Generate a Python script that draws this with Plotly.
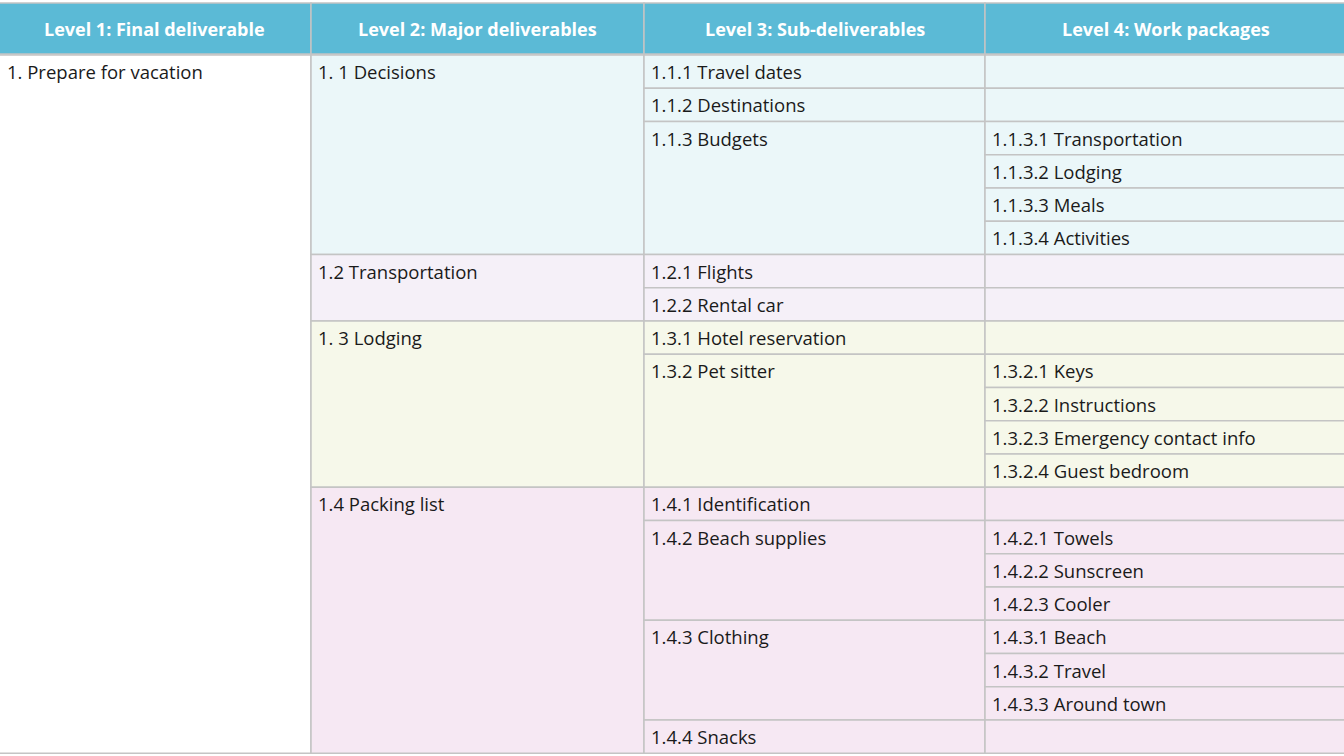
import plotly.graph_objects as go

# ---- data ----
headers = ["Level 1: Final deliverable", "Level 2: Major deliverables",
           "Level 3: Sub-deliverables", "Level 4: Work packages"]

level1 = [("1. Prepare for vacation", 21)]
level2 = [("1. 1 Decisions", 6), ("1.2 Transportation", 2),
          ("1. 3 Lodging", 5), ("1.4 Packing list", 8)]
level3 = [("1.1.1 Travel dates", 1), ("1.1.2 Destinations", 1), ("1.1.3 Budgets", 4),
          ("1.2.1 Flights", 1), ("1.2.2 Rental car", 1),
          ("1.3.1 Hotel reservation", 1), ("1.3.2 Pet sitter", 4),
          ("1.4.1 Identification", 1), ("1.4.2 Beach supplies", 3),
          ("1.4.3 Clothing", 3), ("1.4.4 Snacks", 1)]
level4 = ["", "", "1.1.3.1 Transportation", "1.1.3.2 Lodging", "1.1.3.3 Meals",
          "1.1.3.4 Activities", "", "", "", "1.3.2.1 Keys", "1.3.2.2 Instructions",
          "1.3.2.3 Emergency contact info", "1.3.2.4 Guest bedroom", "",
          "1.4.2.1 Towels", "1.4.2.2 Sunscreen", "1.4.2.3 Cooler", "1.4.3.1 Beach",
          "1.4.3.2 Travel", "1.4.3.3 Around town", ""]

group_colors = ["#ebf7f9", "#f5f0f8", "#f6f8ea", "#f6e8f3"]

# ---- geometry ----
col_x = [-2, 311, 644, 985, 1346]
head_top, head_bot = 3, 54
row_top = 55
row_h = 33.25
border = "#c4c4c4"
font_fam = "Open Sans, Lato, sans-serif"

fig = go.Figure()
shapes, annotations = [], []

# header
for i, h in enumerate(headers):
    shapes.append(dict(type="rect", x0=col_x[i], x1=col_x[i + 1], y0=head_top, y1=head_bot,
                       fillcolor="#5bbad6", line=dict(color=border, width=1.5)))
    annotations.append(dict(x=(col_x[i] + col_x[i + 1]) / 2, y=(head_top + head_bot) / 2,
                            text="<b>" + h + "</b>", showarrow=False,
                            font=dict(color="white", size=18, family=font_fam)))

# row -> group colour
row_color = []
for g, (_, span) in enumerate(level2):
    row_color += [group_colors[g]] * span


def add_col(col, items, colors):
    r = 0
    for text, span in items:
        y0 = row_top + r * row_h
        y1 = y0 + span * row_h
        shapes.append(dict(type="rect", x0=col_x[col], x1=col_x[col + 1], y0=y0, y1=y1,
                           fillcolor=colors[r], line=dict(color=border, width=1.5),
                           layer="below"))
        if text:
            annotations.append(dict(x=max(col_x[col], 0) + 5, y=y0 + row_h / 2, text=text,
                                    xanchor="left", showarrow=False,
                                    font=dict(color="#1a1a1a", size=18.5, family=font_fam)))
        r += span


add_col(0, level1, ["white"] * 21)
add_col(1, level2, row_color)
add_col(2, level3, row_color)
add_col(3, [(t, 1) for t in level4], row_color)

fig.update_layout(
    width=1344, height=756,
    margin=dict(l=0, r=0, t=0, b=0),
    paper_bgcolor="white", plot_bgcolor="white",
    xaxis=dict(range=[0, 1344], visible=False, fixedrange=True),
    yaxis=dict(range=[756, 0], visible=False, fixedrange=True),
    shapes=shapes, annotations=annotations,
)

fig.write_html("out.html", config={"displayModeBar": False},
               post_script="document.body.style.margin='0';document.body.style.overflow='hidden';")
